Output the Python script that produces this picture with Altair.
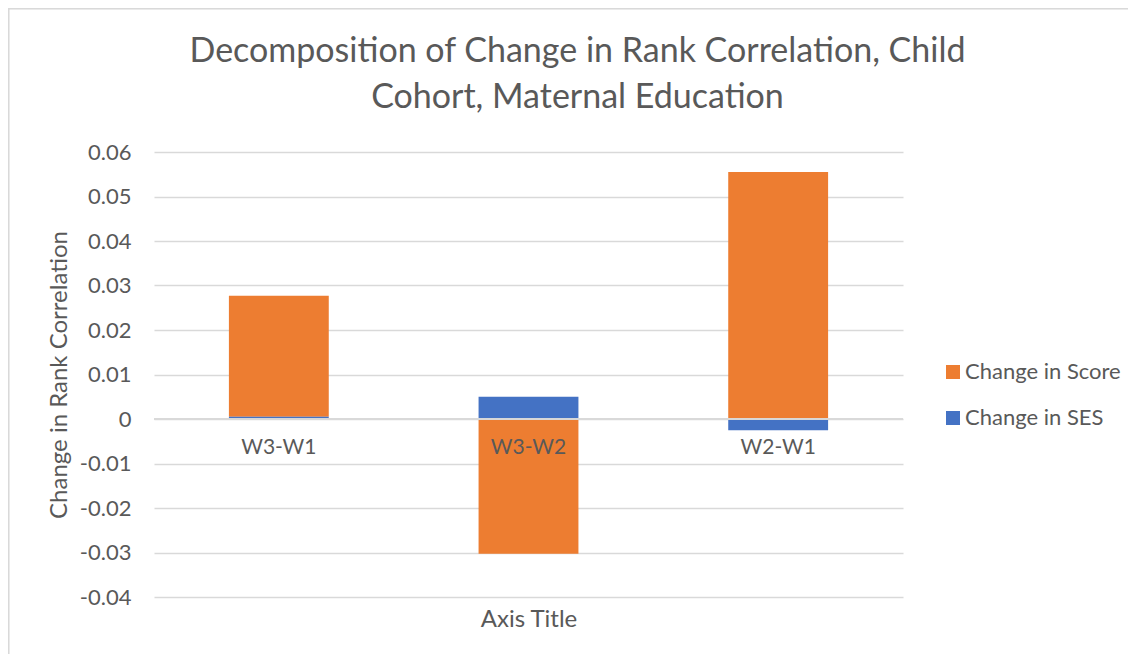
import altair as alt
import pandas as pd

categories = ["W3-W1", "W3-W2", "W2-W1"]
series = ["Change in Score", "Change in SES"]
score_values = [0.0272, -0.0303, 0.0555]
ses_values = [0.0005, 0.0050, -0.0025]
stack_order = {"Change in SES": 0, "Change in Score": 1}
y_ticks = [-0.04, -0.03, -0.02, -0.01, 0, 0.01, 0.02, 0.03, 0.04, 0.05, 0.06]

rows = []
for c, s, e in zip(categories, score_values, ses_values):
    rows.append({"cat": c, "series": "Change in Score", "value": s, "ord": stack_order["Change in Score"]})
    rows.append({"cat": c, "series": "Change in SES", "value": e, "ord": stack_order["Change in SES"]})
df = pd.DataFrame(rows)
cat_df = pd.DataFrame({"cat": categories, "zero": [0] * len(categories)})

FONT = "Lato"
GREY = "#595959"
GRID = "#d9d9d9"

W, H = 749, 445
PAD_L, PAD_T = 146, 144
SVG_W, SVG_H = 1120, 646

xscale = alt.Scale(domain=categories, paddingInner=0.6, paddingOuter=0.3)
yscale = alt.Scale(domain=[-0.04, 0.06], nice=False, zero=False)

bars = alt.Chart(df).mark_bar().encode(
    x=alt.X("cat:N", scale=xscale, sort=categories,
            axis=alt.Axis(labels=False, ticks=False, domain=False, title="Axis Title",
                          titleFont=FONT, titleFontSize=24, titleFontWeight="normal",
                          titleColor=GREY, titlePadding=10)),
    y=alt.Y("value:Q", scale=yscale, stack="zero",
            axis=alt.Axis(values=y_ticks, domain=False, ticks=False, gridColor=GRID,
                          gridWidth=1.3,
                          labelExpr="datum.value == 0 ? '0' : (datum.value < 0 ? '-' + format(abs(datum.value), '.2f') : format(datum.value, '.2f'))",
                          labelFont=FONT, labelFontSize=22, labelColor=GREY, labelPadding=23,
                          title="Change in Rank Correlation", titleFont=FONT, titleFontSize=24,
                          titleFontWeight="normal", titleColor=GREY, titlePadding=8)),
    color=alt.Color("series:N", scale=alt.Scale(domain=series, range=["#ED7D31", "#4472C4"]),
                    legend=alt.Legend(title=None, orient="none", legendX=788, legendY=209,
                                      symbolType="square", symbolSize=196, symbolStrokeWidth=0,
                                      labelFont=FONT, labelFontSize=22, labelColor=GREY,
                                      rowPadding=24, labelOffset=1)),
    order=alt.Order("ord:Q", sort="ascending"),
)

zero_rule = alt.Chart(cat_df).mark_rule(color=GRID, strokeWidth=1.3).encode(
    y=alt.Y("zero:Q", scale=yscale),
    x=alt.value(0), x2=alt.value(W),
)

labels = alt.Chart(cat_df).mark_text(font=FONT, fontSize=21, color=GREY, dy=29, baseline="middle").encode(
    x=alt.X("cat:N", scale=xscale, sort=categories),
    y=alt.Y("zero:Q", scale=yscale),
    text="cat:N",
)

border = alt.Chart(cat_df).mark_rect(fill=None, stroke=GRID, strokeWidth=1.5).encode(
    x=alt.value(-PAD_L + 0.5), x2=alt.value(SVG_W + 50),
    y=alt.value(-PAD_T + 0.5), y2=alt.value(SVG_H + 50),
)

chart = alt.layer(border, bars, zero_rule, labels).properties(
    width=W, height=H,
    autosize=alt.AutoSizeParams(type="none"),
    padding={"left": PAD_L, "top": PAD_T, "right": SVG_W - PAD_L - W, "bottom": SVG_H - PAD_T - H},
    title=alt.TitleParams(
        text=["Decomposition of Change in Rank Correlation, Child", "Cohort, Maternal Education"],
        font=FONT, fontSize=34, fontWeight="normal", color=GREY, anchor="middle",
        dx=49, offset=-141, lineHeight=46, baseline="bottom",
    ),
).configure(background="white").configure_view(stroke=None)

chart.save("out.html", embed_options={"renderer": "svg", "actions": False})
